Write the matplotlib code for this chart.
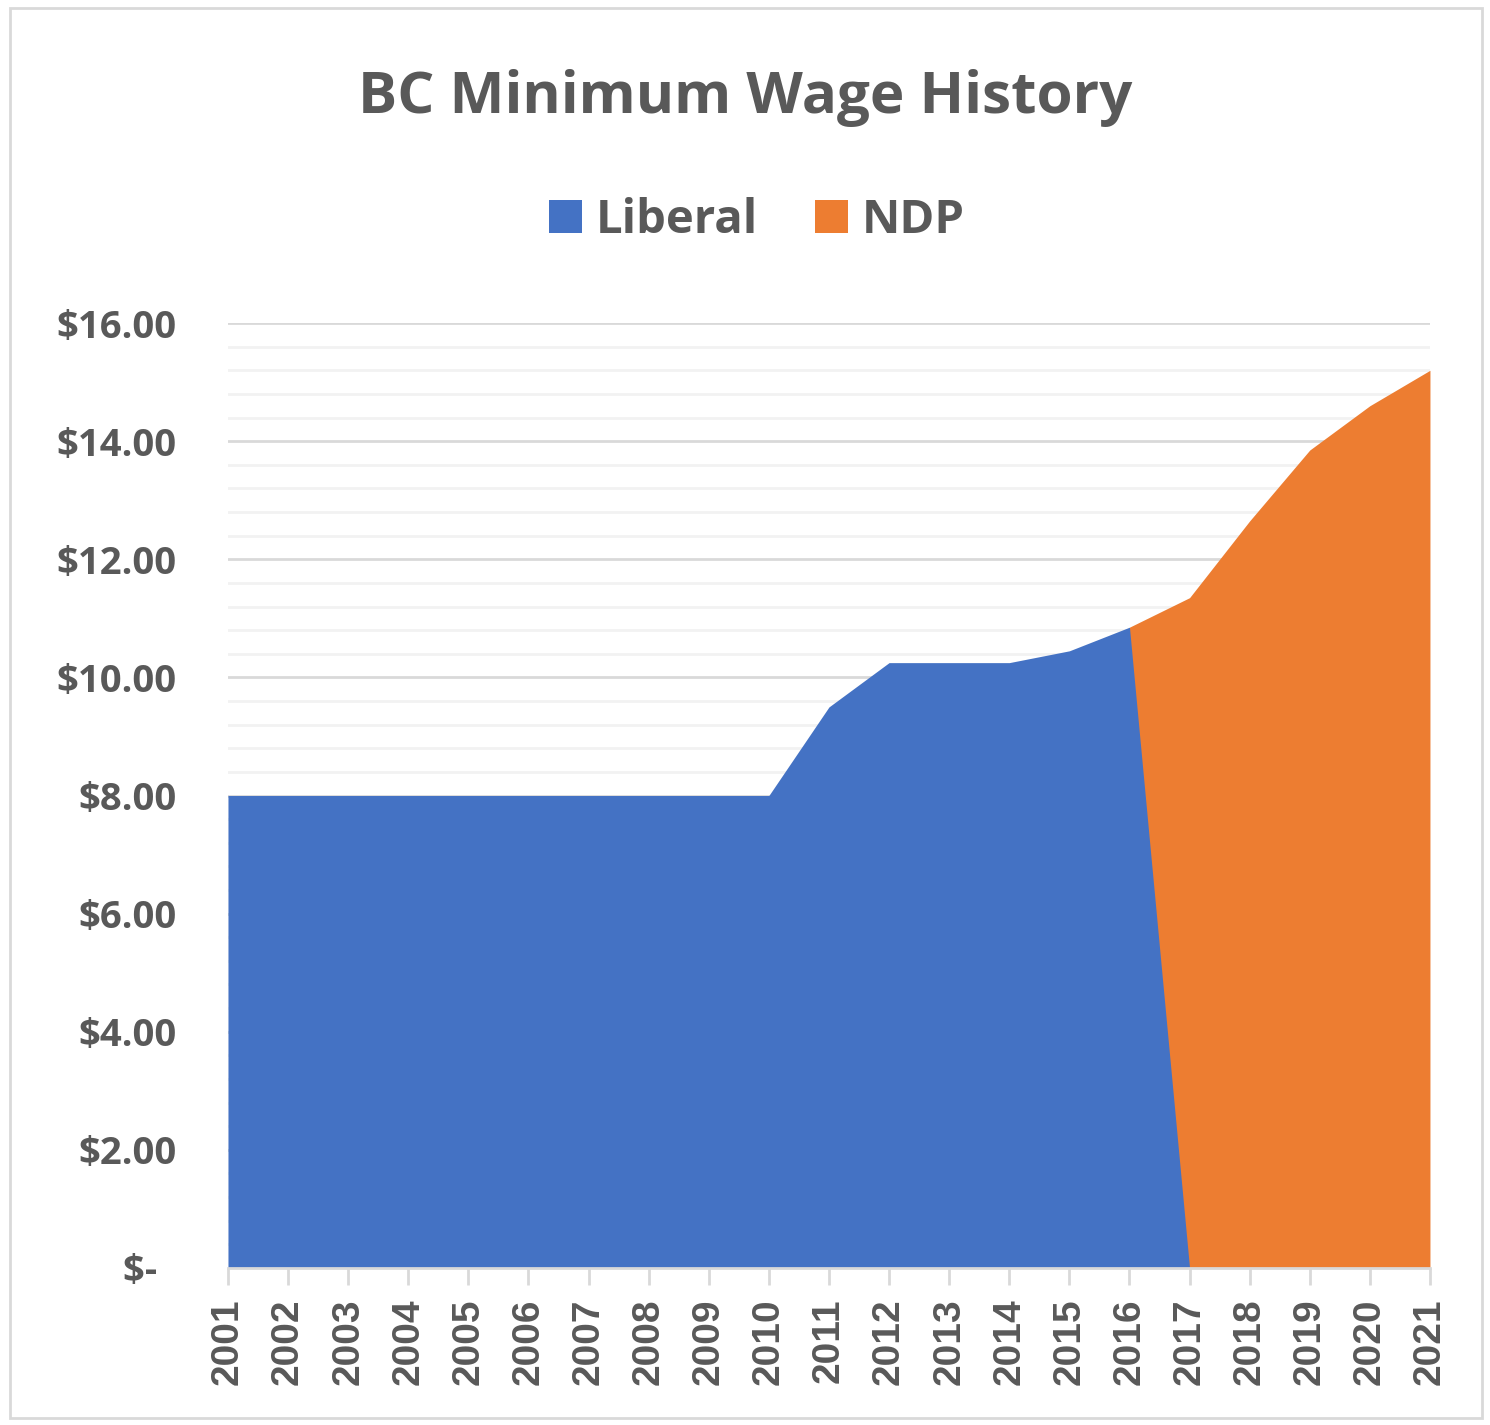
import numpy as np
import matplotlib.pyplot as plt
from matplotlib.patches import Rectangle
from matplotlib.ticker import MultipleLocator, FuncFormatter

years = list(range(2001, 2022))
liberal = [8.00, 8.00, 8.00, 8.00, 8.00, 8.00, 8.00, 8.00, 8.00, 8.00,
           9.50, 10.25, 10.25, 10.25, 10.45, 10.85, 0.00,
           np.nan, np.nan, np.nan, np.nan]
ndp = [0, 0, 0, 0, 0, 0, 0, 0, 0, 0, 0, 0, 0, 0, 0,
       10.85, 11.35, 12.65, 13.85, 14.60, 15.20]

blue = '#4472C4'
orange = '#ED7D31'
text_col = '#595959'
font = 'Open Sans'

fig = plt.figure(figsize=(14.9, 14.25), dpi=100)
ax = fig.add_axes([0.153, 0.1102, 0.8067, 0.6631])

x = np.array(years)
lib = np.array(liberal)
mask = ~np.isnan(lib)
ax.fill_between(x, 0, ndp, color=orange, lw=0, zorder=2, label='NDP')
ax.fill_between(x[mask], 0, lib[mask], color=blue, lw=0, zorder=3, label='Liberal')

ax.set_xlim(2001, 2021)
ax.set_ylim(0, 16)
ax.yaxis.set_major_locator(MultipleLocator(2))
ax.yaxis.set_minor_locator(MultipleLocator(0.4))
ax.grid(which='major', axis='y', color='#d9d9d9', lw=2, zorder=0)
ax.grid(which='minor', axis='y', color='#f2f2f2', lw=2, zorder=0)
ax.set_axisbelow(True)

ax.yaxis.set_major_formatter(FuncFormatter(lambda v, p: '$-  ' if v == 0 else f'${v:.2f}'))
ax.tick_params(axis='y', which='both', length=0, pad=37)
ax.set_xticks(years)
ax.set_xticklabels([str(y) for y in years], rotation=90)
ax.tick_params(axis='x', length=12, width=2, color='#d9d9d9', pad=10)

for lab in ax.get_yticklabels():
    lab.set_fontfamily(font)
    lab.set_fontweight('bold')
    lab.set_fontsize(27.5)
    lab.set_color(text_col)
for lab in ax.get_xticklabels():
    lab.set_fontfamily('Liberation Sans')
    lab.set_fontweight('bold')
    lab.set_fontsize(28)
    lab.set_color(text_col)

for s in ['left', 'right', 'top']:
    ax.spines[s].set_visible(False)
ax.spines['bottom'].set_color('#d9d9d9')
ax.spines['bottom'].set_linewidth(2)
ax.spines['bottom'].set_zorder(4)

fig.text(0.5, 0.931, 'BC Minimum Wage History', ha='center', va='center',
         fontsize=42, fontweight='bold', color=text_col, family=font)

handles, labels = ax.get_legend_handles_labels()
leg = fig.legend(handles[::-1], labels[::-1], loc='center', bbox_to_anchor=(0.508, 0.845),
                 ncol=2, frameon=False, handlelength=0.7, handleheight=0.7,
                 handletextpad=0.3, columnspacing=1.2,
                 prop={'family': font, 'weight': 'bold', 'size': 34})
for t in leg.get_texts():
    t.set_color(text_col)

fig.patches.append(Rectangle((10 / 1490, 7 / 1425), 1472 / 1490, 1410 / 1425,
                             transform=fig.transFigure, fill=False,
                             edgecolor='#d9d9d9', lw=2))

fig.savefig('out.png', dpi=100, facecolor='white')
